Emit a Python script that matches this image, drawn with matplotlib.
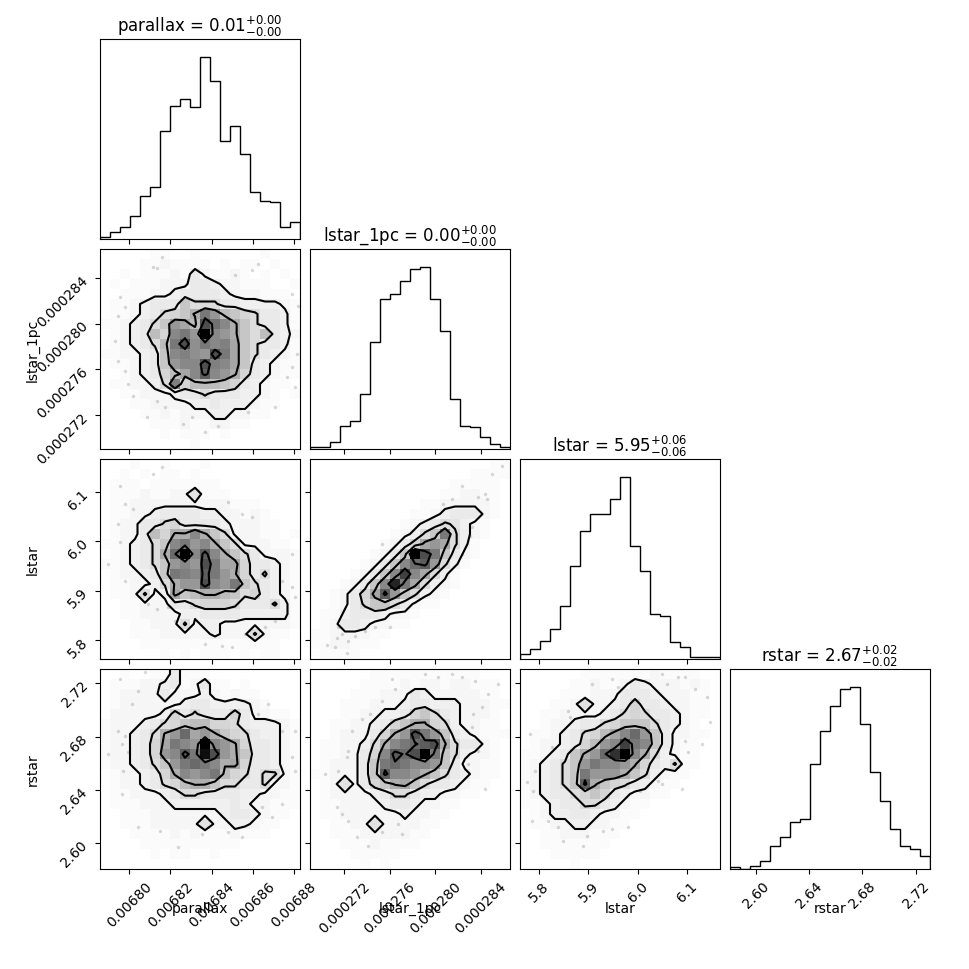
import numpy as np
import matplotlib
matplotlib.use("Agg")
import matplotlib.pyplot as plt
from matplotlib.colors import LinearSegmentedColormap

# parameter names and plot ranges
labels = ["parallax", "lstar_1pc", "lstar", "rstar"]
ranges = [(0.0067858, 0.0068829), (0.00026902, 0.00028654), (5.7607, 6.1680), (2.5807, 2.7308)]

# median and errors shown in titles
medians = ["0.01", "0.00", "5.95", "2.67"]
err_lo = ["0.00", "0.00", "0.06", "0.02"]
err_hi = ["0.00", "0.00", "0.06", "0.02"]

# tick positions and labels
ticks = [
    [0.00680, 0.00682, 0.00684, 0.00686, 0.00688],
    [0.000272, 0.000276, 0.000280, 0.000284],
    [5.8, 5.9, 6.0, 6.1],
    [2.60, 2.64, 2.68, 2.72],
]
tick_labels = [
    ["0.00680", "0.00682", "0.00684", "0.00686", "0.00688"],
    ["0.000272", "0.000276", "0.000280", "0.000284"],
    ["5.8", "5.9", "6.0", "6.1"],
    ["2.60", "2.64", "2.68", "2.72"],
]

# 1D histogram counts (20 bins each)
hist_parallax = [1, 4, 7, 14, 26, 31, 65, 80, 84, 79, 109, 95, 59, 68, 51, 28, 23, 22, 7, 10]
hist_lstar_1pc = [1, 1, 4, 14, 17, 33, 64, 90, 93, 101, 108, 109, 90, 71, 30, 14, 13, 7, 3, 1]
hist_lstar = [3, 6, 11, 18, 32, 56, 77, 87, 87, 96, 109, 68, 53, 27, 26, 10, 7, 1, 1, 1]
hist_rstar = [1, 0, 2, 5, 14, 19, 28, 30, 63, 83, 98, 108, 109, 87, 58, 41, 24, 14, 12, 8]

# contour levels (counts per bin)
contour_levels = [2.5, 5.5, 11.5, 21.5]

# 2D histogram counts, rows from top (high y) to bottom, columns left to right
h_par_l1pc = [
    [0,0,0,0,0,1,1,0,0,1,0,0,0,0,0,0,1,0,0,0],
    [0,0,0,0,1,1,2,1,1,1,1,0,1,0,1,1,0,1,0,0],
    [0,0,1,0,1,1,1,2,1,4,2,1,1,2,1,0,1,0,1,0],
    [0,1,0,1,1,1,2,2,2,4,4,3,2,2,1,1,1,0,0,1],
    [0,0,1,1,1,2,2,3,4,4,4,4,3,2,2,2,1,1,1,0],
    [0,1,1,2,3,4,4,4,9,6,6,6,4,4,3,3,3,3,2,1],
    [0,1,1,2,3,4,6,7,9,12,19,15,10,9,7,6,4,4,3,1],
    [1,1,2,3,4,6,9,15,13,10,25,20,17,12,9,6,4,4,3,1],
    [0,1,2,3,4,10,7,17,19,15,36,17,15,12,9,6,10,4,3,2],
    [0,1,2,3,4,6,10,19,25,16,19,17,18,13,9,6,4,4,3,1],
    [1,1,2,2,3,4,9,17,18,16,15,25,19,13,9,6,4,3,2,1],
    [0,1,1,2,3,4,9,15,17,17,25,18,17,13,9,4,3,2,1,1],
    [0,0,1,2,3,4,7,10,13,17,23,17,15,12,7,4,3,2,1,1],
    [0,1,1,2,2,3,6,18,7,10,10,10,9,7,4,3,2,1,1,0],
    [0,0,1,1,2,2,2,3,4,4,6,4,4,4,3,3,2,1,0,1],
    [0,0,0,1,1,2,2,2,2,3,3,4,3,3,3,2,1,1,0,0],
    [0,0,0,0,1,1,2,1,2,2,2,3,3,2,2,1,1,0,0,0],
    [0,0,0,0,0,1,1,1,2,1,1,2,2,1,1,0,0,0,0,0],
    [0,0,0,0,0,0,1,0,1,1,1,0,1,0,0,0,0,0,0,0],
    [0,0,0,0,0,0,0,0,0,1,0,0,0,0,0,0,0,0,0,0],
]
h_par_lstar = [
    [0,0,0,1,0,0,1,0,0,0,1,0,0,0,0,0,0,0,0,0],
    [0,0,1,0,1,0,1,1,0,1,0,0,0,0,0,0,0,0,0,0],
    [0,1,1,1,0,1,1,1,1,1,1,1,0,0,0,0,0,0,0,0],
    [0,1,1,1,2,1,1,2,2,5,1,1,1,0,0,0,0,0,0,0],
    [0,1,1,2,2,2,2,2,2,2,2,2,2,1,1,1,0,0,0,0],
    [0,1,1,2,2,3,4,4,4,4,3,3,2,2,1,2,1,0,0,0],
    [0,1,2,2,4,4,6,7,4,4,4,4,3,2,2,2,1,1,0,0],
    [0,1,2,2,4,10,7,12,12,17,12,9,6,2,2,2,1,1,0,1],
    [1,1,2,3,4,6,9,17,19,15,17,12,9,6,2,2,2,1,1,0],
    [0,1,2,3,4,6,12,21,36,17,23,17,12,9,6,4,2,2,2,1],
    [1,1,2,3,4,6,9,15,17,15,25,19,13,13,7,4,4,3,2,1],
    [0,1,2,2,3,4,9,19,18,17,23,19,15,12,7,4,6,3,2,1],
    [0,1,1,2,2,3,6,12,15,15,25,17,15,19,9,6,4,3,2,1],
    [0,1,1,2,6,2,3,13,9,10,12,12,10,9,6,7,4,3,2,1],
    [0,0,1,1,2,2,2,4,4,6,7,7,7,6,4,4,4,6,3,1],
    [0,0,1,1,2,2,2,2,3,3,4,4,4,4,3,3,3,3,3,1],
    [0,0,0,1,1,2,2,2,6,2,3,3,2,2,2,2,2,2,2,1],
    [0,0,0,1,1,1,2,2,2,2,2,3,2,2,2,6,2,1,1,0],
    [0,0,0,0,1,1,1,1,1,1,1,1,1,1,1,1,1,1,0,0],
    [0,0,0,0,0,0,1,0,1,0,1,1,1,0,1,0,1,1,0,0],
]
h_par_rstar = [
    [0,0,1,0,0,1,1,4,1,1,1,0,0,0,0,0,0,0,0,0],
    [0,1,1,1,2,2,3,4,1,2,4,1,1,0,1,0,0,0,0,0],
    [0,1,2,2,2,2,4,2,2,2,3,2,1,2,1,1,0,0,0,0],
    [0,1,2,2,2,2,2,2,3,4,4,3,3,3,3,2,1,0,0,0],
    [0,2,2,2,2,2,3,7,4,6,4,4,4,7,4,2,2,1,1,0],
    [1,2,2,2,3,4,6,7,9,10,10,7,7,6,4,3,3,3,2,1],
    [1,2,2,3,4,6,12,15,21,13,15,12,9,7,6,4,3,3,2,1],
    [1,2,2,3,4,7,13,19,17,15,36,17,15,12,7,4,4,3,2,1],
    [1,2,2,3,4,7,15,17,23,19,34,25,15,12,9,4,4,3,2,1],
    [1,2,2,3,4,6,9,15,19,21,19,17,12,13,7,4,4,3,2,1],
    [0,1,2,2,3,4,7,12,17,15,17,19,10,7,6,4,6,6,2,1],
    [0,1,2,2,3,4,6,7,10,12,12,9,6,6,4,4,6,2,2,1],
    [0,1,1,2,2,2,3,4,6,6,4,4,4,4,3,3,2,2,1,1],
    [0,1,1,1,2,2,2,3,3,3,3,3,3,4,3,2,2,1,1,1],
    [0,0,1,1,1,2,2,2,2,2,2,2,3,4,4,3,2,1,1,0],
    [0,0,1,1,1,2,2,2,2,2,5,2,2,3,3,2,1,1,0,0],
    [0,0,0,1,1,1,1,2,1,2,1,1,1,2,1,1,1,0,0,0],
    [0,0,0,0,1,1,1,1,1,1,1,1,1,1,0,0,0,0,0,0],
    [0,0,0,0,0,1,0,1,1,0,0,1,0,0,0,0,0,0,0,0],
    [0,0,0,0,0,0,0,0,0,0,0,0,0,0,0,0,0,0,0,0],
]
h_l1pc_lstar = [
    [0,0,0,0,0,0,0,0,0,0,0,0,0,0,0,0,0,0,1,1],
    [0,0,0,0,0,0,0,0,0,0,0,0,0,0,0,0,1,1,1,1],
    [0,0,0,0,0,0,0,0,0,0,0,0,0,0,1,1,1,1,1,0],
    [0,0,0,0,0,0,0,0,0,0,0,0,0,1,1,2,2,1,1,0],
    [0,0,0,0,0,0,0,0,0,0,0,1,1,2,2,2,2,2,1,0],
    [0,0,0,0,0,0,0,0,0,0,1,1,2,3,4,4,4,2,1,0],
    [0,0,0,0,0,0,0,0,0,1,2,3,4,6,5,3,2,1,0,0],
    [0,0,0,0,0,0,0,0,1,2,3,6,9,19,6,3,2,1,0,0],
    [0,0,0,0,0,0,0,1,2,4,7,13,15,13,6,3,1,0,0,0],
    [0,0,0,0,0,0,1,2,4,9,36,25,19,9,4,2,1,0,0,0],
    [0,0,0,0,0,1,2,4,9,17,21,23,15,6,3,1,0,0,0,0],
    [0,0,0,0,1,2,4,9,17,27,17,13,6,3,1,0,0,0,0,0],
    [0,0,0,1,2,4,9,17,31,19,13,6,3,2,1,0,0,0,0,0],
    [0,0,1,2,4,7,13,23,15,9,6,3,2,1,0,0,0,0,0,0],
    [0,0,1,2,4,6,9,9,6,4,2,1,1,0,0,0,0,0,0,0],
    [0,1,1,3,4,4,4,3,2,2,1,0,0,0,0,0,0,0,0,0],
    [0,1,2,4,4,3,2,2,1,1,0,0,0,0,0,0,0,0,0,0],
    [1,1,2,2,2,2,1,1,0,0,0,0,0,0,0,0,0,0,0,0],
    [1,1,2,2,1,1,1,0,0,0,0,0,0,0,0,0,0,0,0,0],
    [0,1,1,1,1,0,0,0,0,0,0,0,0,0,0,0,0,0,0,0],
]
h_l1pc_rstar = [
    [0,0,0,0,0,0,1,1,1,1,1,1,1,1,1,1,1,0,0,0],
    [0,0,0,0,0,1,1,1,1,2,1,2,2,1,2,2,1,1,1,0],
    [0,0,0,0,1,1,1,2,2,2,4,3,2,2,2,2,2,1,1,0],
    [0,0,0,1,1,1,2,2,2,3,4,4,3,3,3,2,2,2,1,1],
    [0,0,0,1,1,2,2,3,3,4,7,9,6,4,3,2,2,2,1,0],
    [0,0,1,1,2,2,3,4,7,9,12,12,7,6,3,2,2,1,1,0],
    [0,0,1,2,2,2,4,7,12,15,25,19,15,9,4,3,2,1,1,1],
    [0,1,1,2,2,3,6,12,17,19,21,23,25,12,6,4,4,2,1,0],
    [0,1,1,2,2,4,7,17,23,21,25,36,19,9,6,3,2,2,1,0],
    [0,1,2,2,2,4,9,19,21,19,17,17,15,9,4,2,2,1,1,0],
    [1,1,2,2,2,4,9,23,17,17,15,12,9,6,4,3,2,1,1,0],
    [0,1,2,5,2,4,7,9,12,13,9,6,4,4,3,2,1,1,0,0],
    [0,1,2,2,2,2,3,4,6,6,4,3,3,2,2,1,1,0,0,0],
    [0,1,1,2,2,2,2,3,4,4,3,2,2,1,1,0,0,0,0,0],
    [0,1,1,2,2,2,2,2,2,3,2,2,1,1,0,0,0,0,0,0],
    [0,0,1,1,2,2,5,2,2,2,2,1,1,0,0,0,0,0,0,0],
    [0,0,1,1,1,2,2,2,2,2,1,1,0,0,0,0,0,0,0,0],
    [0,0,0,1,1,1,2,1,1,1,1,0,0,0,0,0,0,0,0,0],
    [0,0,0,0,1,1,1,1,1,0,0,0,0,0,0,0,0,0,0,0],
    [0,0,0,0,0,1,0,1,0,0,0,0,0,0,0,0,0,0,0,0],
]
h_lstar_rstar = [
    [0,0,0,0,0,0,1,1,1,1,1,1,1,2,1,1,1,1,0,0],
    [0,0,0,0,0,1,1,2,1,1,2,4,3,2,2,2,1,2,1,0],
    [0,0,0,0,1,1,1,2,2,2,4,4,4,3,2,2,2,1,1,0],
    [0,0,0,1,1,2,5,2,2,3,4,7,4,4,3,2,2,1,1,0],
    [0,0,1,1,2,2,2,2,3,4,6,7,6,4,4,3,2,1,1,0],
    [0,0,1,2,2,3,4,4,6,7,9,9,9,6,4,3,2,1,0,0],
    [0,1,1,2,3,4,6,7,10,13,17,21,15,9,4,2,2,1,1,0],
    [0,1,2,2,3,4,7,10,15,17,27,19,17,9,4,2,1,1,0,0],
    [1,1,2,3,4,9,12,15,21,29,36,17,12,6,3,2,1,1,0,0],
    [1,2,3,4,6,9,15,19,17,17,15,12,7,4,3,6,1,1,0,0],
    [1,2,3,4,6,9,19,15,15,15,12,9,6,3,2,1,1,0,0,0],
    [1,2,3,4,6,9,23,12,9,7,6,4,3,2,1,1,0,0,0,0],
    [1,2,3,4,4,6,7,9,7,4,3,2,2,1,1,0,0,0,0,0],
    [1,1,2,3,4,4,6,6,4,3,2,1,1,0,0,0,0,0,0,0],
    [0,1,2,3,3,4,4,3,2,2,1,1,0,0,0,0,0,0,0,0],
    [0,1,1,2,2,3,3,2,2,1,1,0,0,0,0,0,0,0,0,0],
    [0,0,1,1,2,2,2,1,1,1,0,0,0,0,0,0,0,0,0,0],
    [0,0,1,1,1,1,1,1,1,0,0,0,0,0,0,0,0,0,0,0],
    [0,0,0,1,1,1,1,1,0,0,0,0,0,0,0,0,0,0,0,0],
    [0,0,0,0,0,1,0,0,0,0,0,0,0,0,0,0,0,0,0,0],
]

# stray samples outside the contours, in bin units (column from left, row from top)
pts_par_l1pc = [(6.2,0.8),(5.3,1.8),(5.7,1.9),(15.8,1.5),(15.2,2.1),(13.5,2.6),(19.2,4.5),(19.8,5.7),
                (2.0,4.8),(2.5,5.8),(1.8,6.7),(3.5,7.0),(1.5,9.2),(1.8,11.2),(2.5,12.2),(2.8,13.5),
                (3.3,14.7),(4.7,16.8),(5.7,15.2),(6.5,15.8),(8.3,17.5),(9.2,16.8),(10.5,18.3),
                (11.8,17.7),(14.8,16.3),(17.5,15.8),(18.7,12.8),(19.5,13.8),(19.7,10.5),(19.2,11.8)]
pts_par_lstar = [(6.2,0.8),(5.3,1.5),(2.0,2.7),(2.5,4.5),(3.3,5.0),(1.8,6.5),(2.0,8.3),(0.8,10.5),
                 (2.5,12.2),(4.8,14.5),(5.7,15.0),(6.8,14.8),(7.5,16.2),(10.5,18.5),(12.2,18.7),
                 (13.2,18.8),(14.5,17.5),(16.5,16.8),(17.5,16.2),(19.5,13.8),(19.2,12.8),(18.2,12.2),
                 (19.2,9.5),(14.2,5.5),(15.2,5.8),(12.8,4.3)]
pts_par_rstar = [(2.0,1.0),(3.8,2.2),(3.2,3.5),(1.8,6.2),(2.5,6.7),(2.2,7.5),(2.8,8.3),(0.8,8.5),
                 (2.3,10.2),(2.2,12.5),(3.8,15.8),(6.0,16.2),(7.8,17.8),(10.2,16.5),(12.8,16.3),
                 (14.2,16.8),(16.2,13.8),(17.2,14.8),(18.2,13.5),(19.5,10.2),(19.2,8.8),(18.2,6.2),
                 (19.5,6.2),(15.8,4.5),(16.8,3.5),(4.5,0.3)]
pts_l1pc_lstar = [(19.2,0.7),(18.2,1.5),(17.5,3.5),(16.8,3.8),(17.7,4.0),(15.2,2.7),(14.2,4.0),
                  (13.3,4.5),(16.2,6.8),(16.0,7.7),(15.3,8.7),(15.2,9.5),(14.2,10.5),(13.5,11.0),
                  (11.3,13.7),(2.8,16.8),(3.2,17.5),(2.7,17.9),(3.8,18.2),(2.5,18.8),(1.7,18.6),
                  (3.7,19.4),(5.5,17.2),(4.5,17.7),(6.5,16.8),(8.0,16.8),(4.3,13.5),(5.3,12.2),
                  (7.2,8.5),(11.0,6.5)]
pts_l1pc_rstar = [(8.2,1.0),(8.5,2.0),(7.2,3.2),(6.0,4.5),(5.2,5.0),(4.2,6.2),(3.8,8.2),(3.7,8.8),
                  (1.5,10.5),(2.8,10.2),(2.7,13.8),(3.2,14.5),(3.8,15.2),(4.7,16.8),(5.8,17.7),
                  (7.2,16.3),(8.8,15.5),(9.2,16.5),(11.5,0.5),(12.8,0.8),(14.2,0.5),(15.2,0.8),
                  (16.5,1.2),(17.8,2.5),(17.2,3.8),(16.3,4.5),(16.2,5.8),(16.8,8.2),(15.8,9.5),
                  (17.5,12.0),(18.8,1.5)]
pts_lstar_rstar = [(1.0,6.5),(1.5,10.2),(2.2,10.5),(0.7,11.3),(1.3,12.2),(1.2,15.2),(2.8,15.2),
                   (3.8,15.8),(4.3,17.2),(6.3,17.7),(6.7,16.7),(8.3,16.2),(9.2,16.0),(10.8,15.8),
                   (12.0,12.2),(13.8,11.2),(14.2,11.5),(16.2,12.0),(16.5,7.2),(16.8,8.3),(18.2,7.5),
                   (19.0,5.3),(18.7,2.8),(17.5,2.0),(16.5,0.8),(15.8,0.8),(14.2,0.5),(14.7,1.5),
                   (9.2,1.0),(9.8,1.8),(7.2,1.5),(4.8,4.2),(5.0,4.8),(4.0,7.8),(3.2,7.8)]

hists_1d = [hist_parallax, hist_lstar_1pc, hist_lstar, hist_rstar]
# (row, col) -> 2D grid and stray points
hists_2d = {
    (1, 0): (h_par_l1pc, pts_par_l1pc),
    (2, 0): (h_par_lstar, pts_par_lstar),
    (3, 0): (h_par_rstar, pts_par_rstar),
    (2, 1): (h_l1pc_lstar, pts_l1pc_lstar),
    (3, 1): (h_l1pc_rstar, pts_l1pc_rstar),
    (3, 2): (h_lstar_rstar, pts_lstar_rstar),
}

K = 4
nbins = 20
# black with fading alpha; sparse bins stay almost white
density_cmap = LinearSegmentedColormap.from_list(
    "density_cmap",
    [(0.0, (0, 0, 0, 1.0)), (0.5, (0, 0, 0, 0.5)), (0.85, (0, 0, 0, 0.12)),
     (0.95, (0, 0, 0, 0.03)), (1.0, (0, 0, 0, 0.0))])
white_cmap = LinearSegmentedColormap.from_list("white_cmap", [(1, 1, 1), (1, 1, 1)], N=2)


def draw_2d(ax, grid, pts, xr, yr):
    H = np.array(grid, dtype=float)[::-1].T   # H[ix, iy]
    X = np.linspace(xr[0], xr[1], nbins + 1)
    Y = np.linspace(yr[0], yr[1], nbins + 1)

    pts = np.array(pts)
    px = xr[0] + pts[:, 0] / nbins * (xr[1] - xr[0])
    py = yr[1] - pts[:, 1] / nbins * (yr[1] - yr[0])
    ax.plot(px, py, "o", color="k", ms=2.5, mec="none", alpha=0.15, zorder=-1)

    X1 = 0.5 * (X[1:] + X[:-1])
    Y1 = 0.5 * (Y[1:] + Y[:-1])
    H2 = H.min() + np.zeros((H.shape[0] + 4, H.shape[1] + 4))
    H2[2:-2, 2:-2] = H
    H2[2:-2, 1] = H[:, 0]
    H2[2:-2, -2] = H[:, -1]
    H2[1, 2:-2] = H[0]
    H2[-2, 2:-2] = H[-1]
    H2[1, 1] = H[0, 0]
    H2[1, -2] = H[0, -1]
    H2[-2, 1] = H[-1, 0]
    H2[-2, -2] = H[-1, -1]
    dx = X1[1] - X1[0]
    dy = Y1[1] - Y1[0]
    X2 = np.concatenate([X1[0] + np.array([-2, -1]) * dx, X1, X1[-1] + np.array([1, 2]) * dx])
    Y2 = np.concatenate([Y1[0] + np.array([-2, -1]) * dy, Y1, Y1[-1] + np.array([1, 2]) * dy])

    V = contour_levels
    ax.contourf(X2, Y2, H2.T, [V[0], H.max()], cmap=white_cmap, antialiased=False)
    ax.pcolor(X, Y, H.max() - H.T, cmap=density_cmap)
    ax.contour(X2, Y2, H2.T, V, colors="k")
    ax.set_xlim(xr)
    ax.set_ylim(yr)


fig, axes = plt.subplots(K, K, figsize=(9.7, 9.7))
lb = 1.0 / 9.7
tr = 9.3 / 9.7
fig.subplots_adjust(left=lb, bottom=lb, right=tr, top=tr, wspace=0.05, hspace=0.05)

for i in range(K):
    for j in range(K):
        ax = axes[i, j]
        if j > i:
            ax.set_frame_on(False)
            ax.set_xticks([])
            ax.set_yticks([])
            continue
        if i == j:
            edges = np.linspace(ranges[i][0], ranges[i][1], nbins + 1)
            counts = hists_1d[i]
            ax.stairs(counts, edges, color="k")
            ax.set_xlim(ranges[i])
            ax.set_ylim(0, 1.1 * max(counts))
            ax.set_yticks([])
            title = r"%s = $%s_{-%s}^{+%s}$" % (labels[i], medians[i], err_lo[i], err_hi[i])
            ax.set_title(title, fontsize=12)
        else:
            grid, pts = hists_2d[(i, j)]
            draw_2d(ax, grid, pts, ranges[j], ranges[i])
            ax.set_yticks(ticks[i])
            if j == 0:
                ax.set_yticklabels(tick_labels[i], rotation=45)
                ax.set_ylabel(labels[i])
                ax.yaxis.set_label_coords(-0.3, 0.5)
            else:
                ax.set_yticklabels([])
        ax.set_xticks(ticks[j])
        if i == K - 1:
            ax.set_xticklabels(tick_labels[j], rotation=45)
            ax.set_xlabel(labels[j])
            ax.xaxis.set_label_coords(0.5, -0.16)
        else:
            ax.set_xticklabels([])

fig.savefig("out.png", dpi=100)
